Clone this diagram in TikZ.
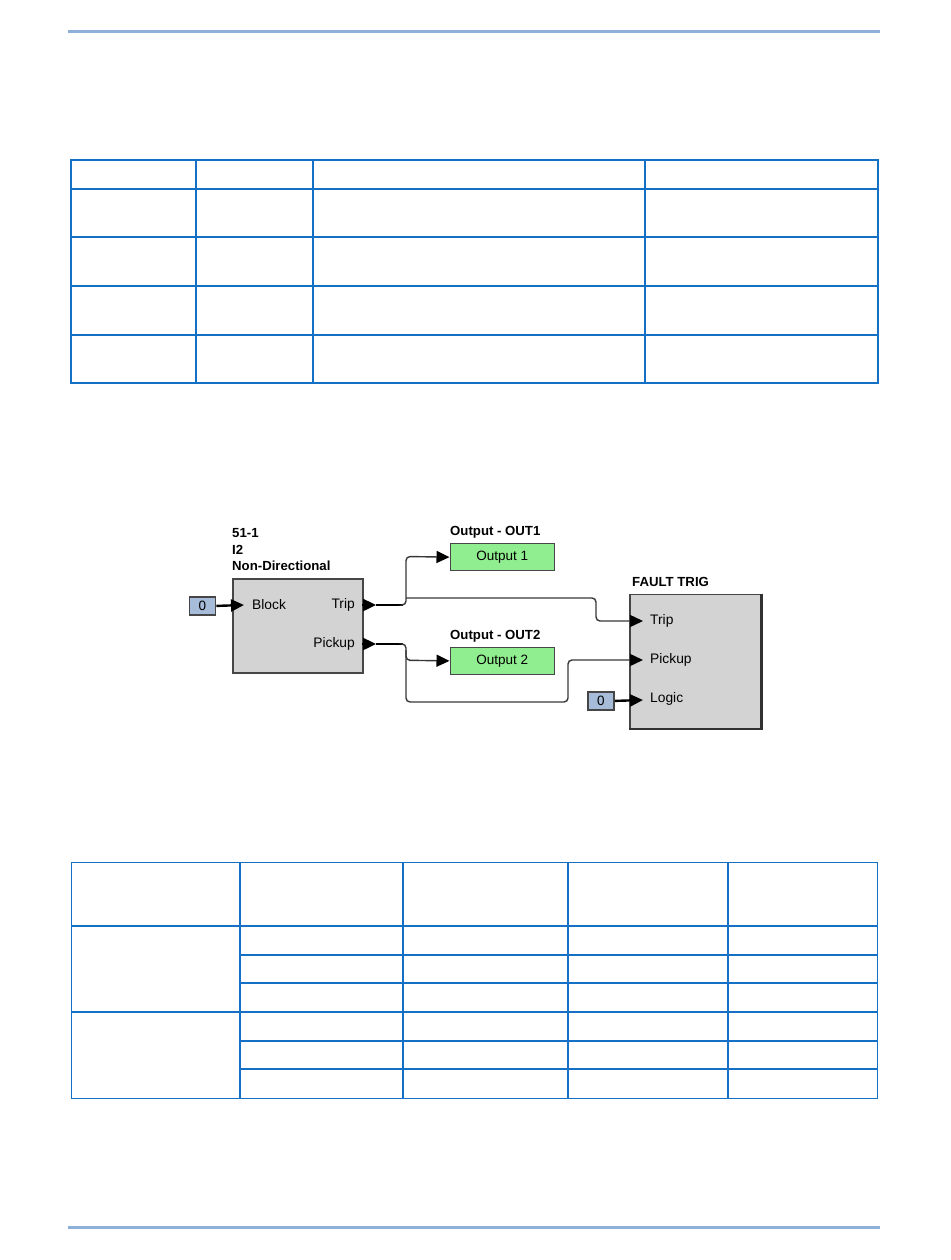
\documentclass[tikz,border=0pt]{standalone}
\usepackage{fontspec}
\setmainfont{Liberation Sans}
\usetikzlibrary{arrows.meta}
\definecolor{tblue}{RGB}{20,112,196}
\definecolor{rule}{RGB}{143,176,216}
\definecolor{blkfill}{RGB}{211,211,211}
\definecolor{blkedge}{RGB}{70,70,70}
\definecolor{outfill}{RGB}{144,238,144}
\definecolor{zerofill}{RGB}{166,188,216}
\definecolor{wirec}{RGB}{55,55,55}
\tikzset{
  tbl/.style={draw=tblue,line width=1.8pt},
  blockbox/.style={draw=blkedge,fill=blkfill,line width=1.5pt,inner sep=0pt,anchor=north west},
  outbox/.style={draw=blkedge,fill=outfill,line width=1.3pt,inner sep=0pt,anchor=north west,font=\fontsize{13.5}{15}\selectfont},
  zerobox/.style={draw=blkedge,fill=zerofill,line width=1.8pt,inner sep=0pt,anchor=north west,font=\fontsize{13.5}{15}\selectfont},
  title/.style={font=\bfseries\fontsize{13.2}{15}\selectfont,inner sep=0pt,anchor=west},
  pinlbl/.style={font=\fontsize{13.8}{15}\selectfont,inner sep=0pt},
  tip/.style={-{Triangle[length=13pt,width=12pt,color=black,fill=black]}},
  stub/.style={line width=2.4pt,black},
  wire/.style={line width=1.4pt,wirec,rounded corners=4pt},
}
\begin{document}
\begin{tikzpicture}[x=1pt,y=-1pt]
\useasboundingbox (0,0) rectangle (950,1260);
% page rules
\draw[rule,line width=3pt] (68,32) -- (880,32);
\draw[rule,line width=3pt] (68,1227) -- (880,1227);

% table 1
\draw[tbl] (71,160) rectangle (878,383);
\foreach \y in {189,237,286,335} \draw[tbl] (71,\y) -- (878,\y);
\foreach \x in {196,313,645} \draw[tbl] (\x,160) -- (\x,383);

% table 2
\draw[tbl] (71.5,862.5) rectangle (877.5,1098.5);
\foreach \y in {926,1012.3} \draw[tbl] (71.5,\y) -- (877.5,\y);
\foreach \y in {954.7,983.3,1041,1069.3} \draw[tbl] (239.7,\y) -- (877.5,\y);
\foreach \x in {239.7,403,568,728} \draw[tbl] (\x,862.5) -- (\x,1098.5);

% blocks
\node[blockbox,minimum width=130pt,minimum height=94pt] (b1) at (232,578) {};
\node[title] (b1t1) at (232,533) {51-1};
\node[title] (b1t2) at (232,549.5) {I2};
\node[title] (b1t3) at (232,566) {Non-Directional};

\node[outbox,minimum width=104pt,minimum height=27pt] (o1) at (449.5,543) {Output 1};
\node[title] (o1t) at (450,532) {Output - OUT1};
\node[outbox,minimum width=104pt,minimum height=26.5pt] (o2) at (449.5,647) {Output 2};
\node[title] (o2t) at (450,636) {Output - OUT2};

\node[blockbox,minimum width=131pt,minimum height=134pt] (ft) at (629,593.5) {};
\draw[line width=2.6pt,blkedge!70!black] (ft.north east) -- (ft.south east) -- (ft.south west);
\node[title] (ftt) at (632,582) {FAULT TRIG};

\node[zerobox,minimum width=26pt,minimum height=18pt] (z1) at (188.5,596) {0};
\node[zerobox,minimum width=26pt,minimum height=18pt] (z2) at (587,691) {0};

% pin labels
\node[pinlbl,anchor=west] (lblock) at (252,605) {Block};
\node[pinlbl,anchor=east] (ltrip) at (355,605) {Trip};
\node[pinlbl,anchor=east] (lpick) at (355,644) {Pickup};
\node[pinlbl,anchor=west] (fltrip) at (650,621) {Trip};
\node[pinlbl,anchor=west] (flpick) at (650,660) {Pickup};
\node[pinlbl,anchor=west] (fllog) at (650,699) {Logic};

% pin coordinates
\coordinate (bin) at (244,605);
\coordinate (tout0) at (362,605);
\coordinate (tout1) at (376,605);
\coordinate (pout0) at (362,644);
\coordinate (pout1) at (376,644);
\coordinate (tj) at (403,605);
\coordinate (pj) at (403,644);
\coordinate (ftin) at (643,621);
\coordinate (fpin) at (643,660);
\coordinate (flin) at (643,700);

% input stubs
\draw[stub,tip] (z1.east) -- (bin);
\draw[stub,tip] (z2.east) -- (flin);
% output pins
\draw[stub,tip] (tout0) -- (tout1);
\draw[stub,tip] (pout0) -- (pout1);
\draw[stub] (tout1) -- (tj);
\draw[stub] (pout1) -- (pj);

% trip wires
\draw[wire,tip] (tj) -- (406,605) -- (406,556.5) -- (o1.west);
\draw[wire,tip] (406,598) -- (596,598) -- (596,621) -- (ftin);
% pickup wires
\draw[wire,tip] (pj) -- (406,644) -- (406,660.25) -- (o2.west);
\draw[wire,tip] (406,650) -- (406,702) -- (568,702) -- (568,660) -- (fpin);
\end{tikzpicture}
\end{document}
